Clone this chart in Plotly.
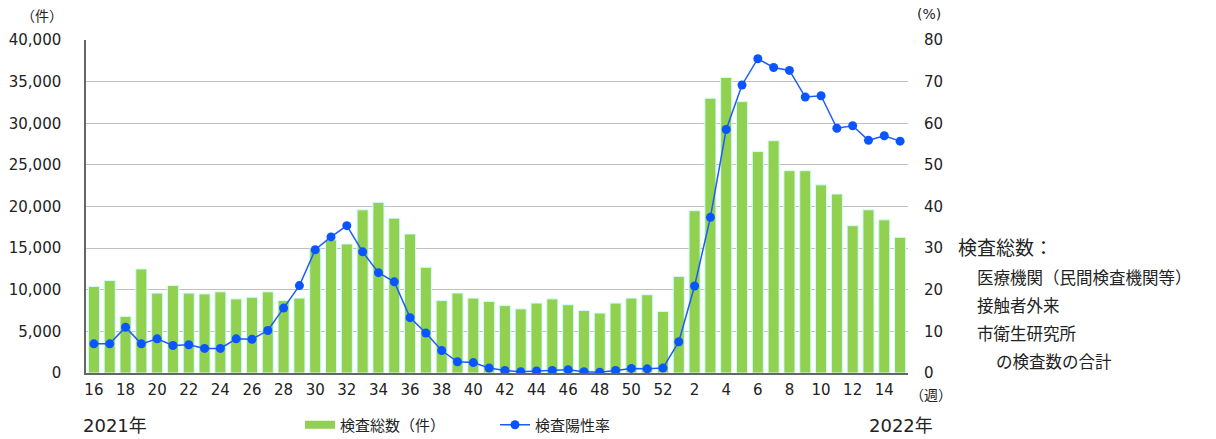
import plotly.graph_objects as go

week_labels = [str(w) for w in range(16, 53)] + [str(w) for w in range(1, 16)]
tick_labels = ["16", "18", "20", "22", "24", "26", "28", "30", "32", "34", "36", "38", "40",
               "42", "44", "46", "48", "50", "52", "2", "4", "6", "8", "10", "12", "14"]

total_tests = [10400, 11100, 6800, 12500, 9600, 10500, 9600, 9500, 9750, 8900, 9100, 9750,
               8700, 9000, 14900, 16000, 15500, 19600, 20500, 18600, 16700, 12700, 8700,
               9600, 9000, 8600, 8100, 7700, 8400, 8900, 8200, 7500, 7200, 8400, 9000, 9400,
               7400, 11600, 19500, 33000, 35500, 32600, 26600, 27900, 24300, 24300, 22600,
               21500, 17700, 19600, 18400, 16300]
positivity = [7.0, 7.0, 11.0, 7.0, 8.2, 6.6, 6.8, 5.9, 5.9, 8.2, 8.1, 10.2, 15.6, 21.0,
              29.6, 32.7, 35.4, 29.1, 24.1, 21.9, 13.3, 9.6, 5.4, 2.7, 2.5, 1.2, 0.6, 0.3,
              0.5, 0.6, 0.8, 0.3, 0.2, 0.6, 1.1, 1.0, 1.2, 7.5, 20.9, 37.4, 58.5, 69.2, 75.5,
              73.4, 72.7, 66.3, 66.6, 58.8, 59.4, 55.9, 57.0, 55.7]

x_idx = list(range(len(week_labels)))
tick_idx = [i for i, w in enumerate(week_labels) if int(w) % 2 == 0]

FONT = "DejaVu Sans, Noto Sans CJK JP"
JFONT = "Noto Sans CJK JP"
TXT = "#222222"
GREEN = "#92D050"
BLUE = "#0A55FF"

W, H = 1216, 439
PL, PR, PT, PB = 86, 908, 40, 373          # plot area in window pixels
L, R, T, B = PL, W - PR, PT, H - PB

fig = go.Figure()
fig.add_trace(go.Bar(
    x=x_idx, y=total_tests, name="検査総数（件）", showlegend=False,
    marker=dict(color=GREEN, line=dict(color="#CCFFFF", width=1)),
))
fig.add_trace(go.Scatter(
    x=[None], y=[None], name="検査総数（件）", mode="lines",
    line=dict(color=GREEN, width=8),
))
fig.add_trace(go.Scatter(
    x=x_idx, y=positivity, name="検査陽性率", yaxis="y2", mode="lines+markers",
    line=dict(color="#1A5CFF", width=1.5),
    marker=dict(color=BLUE, size=9),
))


def px_to_paper(px, py):
    return (px - PL) / (PR - PL), 1 - (py - PT) / (PB - PT)


lx, ly = px_to_paper(300, 425)
fig.update_layout(
    width=W, height=H,
    margin=dict(l=L, r=R, t=T, b=B, autoexpand=False),
    paper_bgcolor="white", plot_bgcolor="white",
    font=dict(family=FONT, size=15, color=TXT),
    bargap=0.3,
    showlegend=True,
    legend=dict(orientation="h", x=lx, xanchor="left", y=ly, yanchor="middle",
                font=dict(size=15, family=JFONT), entrywidth=150, entrywidthmode="pixels",
                traceorder="normal", bgcolor="rgba(0,0,0,0)"),
    xaxis=dict(range=[-0.5, len(week_labels) - 0.5],
               tickmode="array", tickvals=tick_idx, ticktext=tick_labels,
               showline=True, linecolor="#666666", linewidth=1.5, ticks="",
               ticklabelstandoff=2, tickfont=dict(size=15), showgrid=False,
               zeroline=False, automargin=False),
    yaxis=dict(range=[0, 40000], tickvals=list(range(0, 40001, 5000)),
               tickformat=",d", showgrid=True, gridcolor="#C0C0C0", gridwidth=1,
               showline=True, linecolor="#666666", linewidth=1.5, ticks="",
               ticklabelstandoff=20, tickfont=dict(size=15), zeroline=False,
               automargin=False),
    yaxis2=dict(range=[0, 80], tickvals=list(range(0, 81, 10)), overlaying="y",
                side="right", showgrid=False, ticks="", ticklabelstandoff=15,
                tickfont=dict(size=15), zeroline=False, showline=False,
                automargin=False),
)

ann = [
    ("（件）", 42, 16, 14, "center"),
    ("(%)", 929, 14, 14, "center"),
    ("（週）", 931, 395, 14, "center"),
    ("2021年", 115, 425, 18, "center"),
    ("2022年", 901, 425, 18, "center"),
    ("検査総数：", 956, 248, 19, "left"),
    ("医療機関（民間検査機関等）", 975, 278, 16.5, "left"),
    ("接触者外来", 975, 306, 16.5, "left"),
    ("市衛生研究所", 975, 334, 16.5, "left"),
    ("の検査数の合計", 994, 362, 16.5, "left"),
]
for t, x, y, s, anchor in ann:
    ax, ay = px_to_paper(x, y)
    fig.add_annotation(text=t, x=ax, y=ay, xref="paper", yref="paper",
                       showarrow=False, xanchor=anchor, yanchor="middle",
                       font=dict(size=s, family=FONT, color=TXT))

fig.write_html("out.html",
               config={"displayModeBar": False},
               post_script="document.body.style.margin='0';document.body.style.overflow='hidden';")
